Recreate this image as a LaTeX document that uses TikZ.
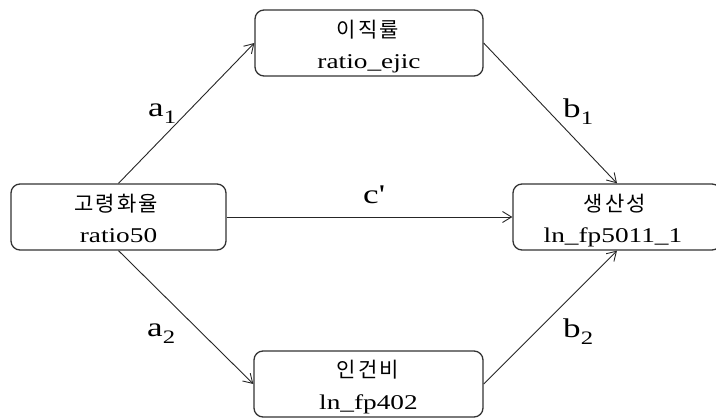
\documentclass[tikz,border=0pt]{standalone}
\usepackage{fontspec}
\setmainfont[FakeStretch=1.3]{Liberation Serif}
\newfontfamily\kr[LetterSpace=10]{Noto Sans CJK KR}
\usetikzlibrary{arrows.meta}
\begin{document}
\begin{tikzpicture}[x=1pt,y=-1pt,
  varbox/.style={draw=black!80, line width=1.3pt, rounded corners=9pt,
    minimum height=66pt, inner sep=0pt},
  krtext/.style={inner sep=0pt, font=\kr\fontsize{21}{21}\selectfont},
  entext/.style={inner sep=0pt, anchor=base, font=\fontsize{21}{21}\selectfont},
  path/.style={draw=black!85, line width=0.9pt, -{Straight Barb[length=9pt,width=11pt,line width=0.9pt]}},
  coef/.style={anchor=base west, inner sep=0pt, font=\fontsize{27}{27}\selectfont}
]
\useasboundingbox (0,0) rectangle (716,419);
\clip (0,0) rectangle (716,419);
\fill[white] (0,0) rectangle (716,419);
\node[varbox, minimum width=215pt] (X) at (118.5,217) {};
\node[varbox, minimum width=228pt] (M1) at (369,43) {};
\node[varbox, minimum width=229pt] (M2) at (368.5,384) {};
\node[varbox, minimum width=208pt] (Y) at (617,217) {};
\node[krtext] (Xk) at (116,204) {고령화율};
\node[entext] (Xe) at (118.5,243) {ratio50};
\node[krtext] (M1k) at (368,30) {이직률};
\node[entext] (M1e) at (369,69) {ratio\_ejic};
\node[krtext] (M2k) at (368,370) {인건비};
\node[entext] (M2e) at (368.5,410) {ln\_fp402};
\node[krtext] (Yk) at (615,204) {생산성};
\node[entext] (Ye) at (613,243) {ln\_fp5011\_1};
\draw[path] (X.north) -- (M1.west);
\draw[path] (X.south) -- (M2.west);
\draw[path] (M1.east) -- (Y.north);
\draw[path] (M2.east) -- (Y.south);
\draw[path] (X.east) -- (Y.west);
\node[coef] (la1) at (148,117) {a\raisebox{-7pt}{\fontsize{19}{19}\selectfont 1}};
\node[coef] (la2) at (147,337) {a\raisebox{-7pt}{\fontsize{19}{19}\selectfont 2}};
\node[coef] (lb1) at (563,118) {b\raisebox{-7pt}{\fontsize{19}{19}\selectfont 1}};
\node[coef] (lb2) at (563,338) {b\raisebox{-7pt}{\fontsize{19}{19}\selectfont 2}};
\node[coef] (lc) at (363,204) {c\textquotesingle};
\end{tikzpicture}
\end{document}
